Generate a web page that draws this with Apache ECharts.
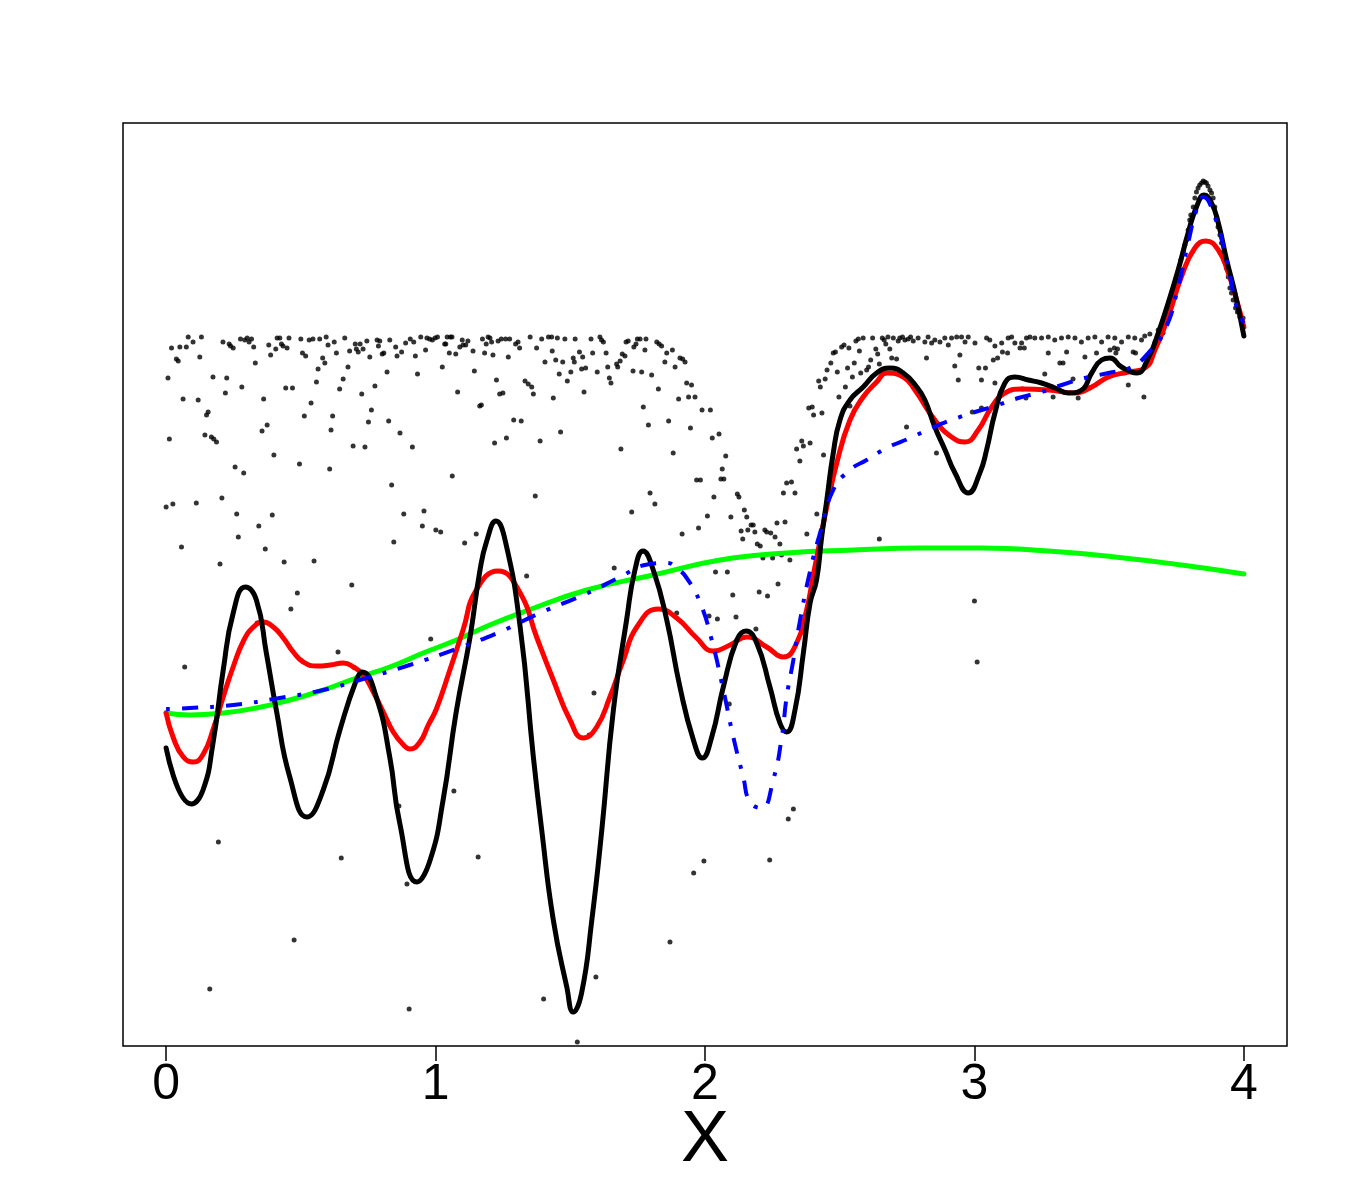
<!DOCTYPE html>
<html>
<head>
<meta charset="utf-8">
<script src="https://cdn.jsdelivr.net/npm/echarts@6/dist/echarts.min.js"></script>
<style>
  html, body { margin: 0; padding: 0; background: #fff; }
  #main { width: 1350px; height: 1200px; }
</style>
</head>
<body>
<div id="main"></div>
<script>
// tick labels on the x axis
var xTicks = [0, 1, 2, 3, 4];

// data points (x, y)
var dotsBandLeft = [
  [0.020,6.98],[0.051,6.99],[0.082,7.09],[0.075,6.99],[0.100,7.04],[0.131,7.09],[0.038,6.87],[0.045,6.85],[0.125,6.89],
  [0.211,7.04],[0.234,7.02],[0.239,7.00],[0.249,6.98],[0.276,7.07],[0.292,7.06],[0.301,7.08],[0.308,7.04],[0.317,7.07],
  [0.325,6.99],[0.331,6.83],[0.381,7.01],[0.388,6.91],[0.407,6.97],[0.412,7.08],[0.422,7.08],[0.428,7.02],[0.434,7.00],
  [0.449,6.98],[0.456,7.08],[0.500,7.07],[0.506,6.93],[0.518,6.90],[0.531,7.06],[0.545,7.07],[0.570,7.07],[0.581,6.88],
  [0.589,6.83],[0.594,7.09],[0.601,7.01],[0.624,7.04],[0.632,6.93],[0.663,7.08],[0.681,6.95],[0.702,7.02],[0.706,6.97],
  [0.713,6.94],[0.720,7.02],[0.731,6.97],[0.745,7.05],[0.756,6.89],[0.783,7.06],[0.793,7.05],[0.788,7.00],[0.802,6.92],
  [0.808,6.93],[0.830,7.06],[0.852,6.99],[0.857,6.90],[0.874,6.94],[0.889,7.03],[0.906,7.07],[0.919,7.04],[0.925,6.90],
  [0.945,7.09],[0.963,6.96],[0.968,7.08],[0.978,7.07],[0.988,7.06],[0.998,7.08],[1.007,7.09],[1.025,6.79],[1.034,7.02],
  [1.038,7.02],[1.043,7.09],[1.055,7.09],[1.061,7.09],[1.051,6.93],[1.075,6.92],[1.090,6.99],[1.099,7.06],[1.102,7.01],
  [1.112,7.01],[1.120,7.05],[1.139,6.95],[1.144,6.75],[1.174,7.07],[1.182,6.93],[1.188,7.02],[1.195,7.09],[1.202,7.08],
  [1.208,7.04],[1.213,6.91],[1.232,7.05],[1.244,7.07],[1.260,7.07],[1.275,7.07],[1.297,7.02],[1.306,7.04],[1.312,6.98],
  [1.270,6.89]
];
var dotsSpreadLeft = [
  [0.007,6.68],[0.174,6.69],[0.225,6.68],[0.063,6.47],[0.119,6.46],[0.220,6.53],[0.281,6.59],[0.444,6.58],[0.469,6.58],
  [0.558,6.64],[0.564,6.77],[0.657,6.67],[0.644,6.57],[0.675,6.79],[0.726,6.52],[0.775,6.60],[0.820,6.74],[0.933,6.72],
  [0.362,6.47],[0.150,6.31],[0.156,6.34],[0.513,6.30],[0.538,6.43],[0.618,6.30],[0.762,6.36],[0.751,6.24],[0.826,6.25],
  [0.868,6.13],[0.914,5.99],[0.694,6.00],[0.738,5.99],[0.356,6.15],[0.375,6.21],[0.612,6.16],[0.144,6.11],[0.168,6.09],
  [0.177,6.07],[0.187,6.04],[0.012,6.07],[0.400,5.91],[0.256,5.79],[0.288,5.73],[0.495,5.82],[0.607,5.77],[1.062,5.70],
  [0.837,5.61],[1.082,6.54],[1.164,6.40],[1.170,6.41],[1.226,6.66],[1.238,6.52],[1.250,6.53],[1.290,6.26],[1.318,6.25],
  [1.219,6.03],[1.263,6.08],[0.000,5.39],[0.025,5.42],[0.112,5.43],[0.207,5.48],[0.262,5.32],[0.394,5.31],[0.344,5.20],
  [0.268,5.09],[0.057,4.99],[0.368,4.97],[0.200,4.82],[0.438,4.84],[0.549,4.85],[0.882,5.32],[0.957,5.35],[0.951,5.20],
  [1.001,5.16],[1.019,5.14],[0.845,5.04],[1.108,5.03],[1.151,5.12],
  [0.069,3.79],[0.487,4.53],[0.463,4.37],[0.689,4.61],[0.638,3.94],[0.982,4.07],[1.068,2.55],[0.864,2.40],[0.338,4.23],
  [0.194,2.04],[0.650,1.88],[0.894,1.62],[1.158,1.89],[0.475,1.06],[0.162,0.57],[0.902,0.37]
];
var dotsMiddle = [
  [1.351,7.09],[1.375,6.98],[1.394,7.07],[1.419,7.09],[1.431,7.09],[1.452,7.08],[1.480,7.07],[1.518,7.07],[1.577,7.07],
  [1.610,7.09],[1.616,7.06],[1.623,7.04],[1.406,6.84],[1.433,6.95],[1.446,6.86],[1.472,6.84],[1.459,6.72],[1.489,6.65],
  [1.502,6.74],[1.511,6.88],[1.515,6.84],[1.534,6.94],[1.542,6.77],[1.546,6.89],[1.557,6.78],[1.583,6.93],[1.600,6.74],
  [1.633,6.93],[1.639,6.79],[1.645,6.68],[1.651,6.63],[1.672,6.82],[1.676,6.79],[1.685,6.85],[1.693,6.92],[1.703,6.90],
  [1.707,7.04],[1.715,7.05],[1.736,6.99],[1.744,7.02],[1.749,7.07],[1.759,7.07],[1.781,7.07],[1.777,6.96],[1.733,6.75],
  [1.765,6.74],[1.802,6.71],[1.821,7.04],[1.830,7.02],[1.839,7.00],[1.858,6.93],[1.851,6.84],[1.879,6.96],[1.889,6.79],
  [1.907,6.88],[1.917,6.87],[1.926,6.84],[1.827,6.57],[1.932,6.63],[1.950,6.61],[1.939,6.49],[1.963,6.49],[1.902,6.47],
  [1.332,6.65],[1.344,6.62],[1.357,6.59],[1.363,6.52],[1.437,6.48],[1.551,6.54],[1.464,6.14],[1.388,6.05],[1.771,6.39],
  [1.790,6.21],[1.865,6.25],[1.946,6.18],[1.989,6.36],[2.020,6.36],[2.027,6.08],[2.052,6.12],[1.688,5.97],[1.882,5.93],
  [2.077,5.90],[2.064,5.77],[2.059,5.67],[2.070,5.67],[1.969,5.66],[1.983,5.66],[1.370,5.50],[1.796,5.53],[1.814,5.42],
  [1.728,5.34],[2.033,5.49],[2.120,5.52],[2.126,5.49],[2.146,5.36],[2.155,5.29],[2.096,5.29],[2.009,5.30],[1.976,5.18],
  [1.915,5.12],[2.134,5.15],[2.140,5.07],[2.159,5.16],[2.171,5.21],[2.179,5.21],[2.185,5.14],[2.222,5.16],[2.229,5.14],
  [2.244,5.13],[2.260,5.09],[2.267,5.23],[2.297,5.24],[2.278,5.02],[2.194,5.02],[2.205,5.00],[2.215,4.88],[2.251,4.88],
  [2.284,4.91],[2.315,4.86],[2.303,5.63],[2.321,5.64],[2.291,5.53],[2.334,5.53],[2.415,5.32],[2.378,5.12],[2.647,5.07],
  [1.663,4.78],[1.338,4.70],[2.039,4.74],[2.083,4.74],
  [2.103,4.51],[2.201,4.54],[2.232,4.50],[2.271,4.62],[1.895,4.33],[2.015,4.30],[2.046,4.27],[2.115,4.29],[2.189,4.17],
  [2.090,3.42],[1.588,3.53],[1.570,3.11],[2.328,2.37],[2.309,2.27],
  [1.401,0.47],[1.595,0.69],[1.526,0.04],[1.870,1.04],[1.958,1.73],[1.996,1.85],[2.240,1.86]
];
var dotsBandRight = [
  [2.340,5.97],[2.352,5.85],[2.359,6.05],[2.365,6.00],[2.390,6.03],[2.385,6.38],[2.398,6.39],[2.403,6.31],[2.434,6.33],
  [2.440,5.91],[2.422,6.65],[2.428,6.59],[2.446,6.67],[2.453,6.76],[2.467,6.83],[2.476,6.93],[2.484,6.94],[2.491,6.74],
  [2.497,6.49],[2.507,6.99],[2.516,7.01],[2.521,6.59],[2.529,6.78],[2.534,6.98],[2.547,6.69],[2.554,6.83],[2.560,7.05],
  [2.569,7.07],[2.573,6.95],[2.578,6.73],[2.587,7.08],[2.600,6.76],[2.607,6.79],[2.615,6.86],[2.622,7.08],[2.634,6.97],
  [2.641,6.92],[2.647,6.82],[2.658,7.08],[2.665,7.06],[2.671,7.02],[2.679,7.09],[2.686,6.97],[2.693,6.88],[2.699,7.08],
  [2.711,6.87],[2.717,7.05],[2.723,7.08],[2.733,7.09],[2.742,7.06],[2.754,7.07],[2.763,7.09],[2.773,7.05],[2.748,6.19],
  [2.538,6.40],
  [2.791,7.08],[2.816,7.04],[2.828,7.09],[2.841,7.03],[2.853,7.06],[2.872,7.04],[2.890,7.08],[2.903,7.01],[2.915,7.08],
  [2.934,7.09],[2.952,7.09],[2.965,7.04],[2.977,7.09],[3.002,7.03],[3.045,7.08],[3.057,7.06],[3.076,7.00],[3.101,7.03],
  [3.125,7.08],[3.138,7.09],[3.150,7.03],[3.175,7.03],[3.193,7.08],[3.206,7.09],[3.224,7.08],[3.249,7.08],[3.274,7.09],
  [3.298,7.06],[3.323,7.08],[3.348,7.09],[3.373,7.08],[3.397,7.04],[3.422,7.08],[3.447,7.09],[3.472,7.04],[3.496,7.09],
  [3.521,7.08],[3.546,7.04],[3.571,7.09],[3.595,7.08],[3.620,7.06],[3.632,7.10],[3.651,7.12],[3.670,7.04],[3.682,7.16],
  [3.694,7.18],[3.700,7.13],
  [2.822,6.88],[2.927,6.80],[2.946,6.91],[2.940,6.66],[3.016,6.78],[3.041,6.78],[3.026,6.66],[3.076,6.63],[3.070,6.86],
  [3.086,6.88],[3.104,6.94],[3.123,6.93],[3.169,6.98],[3.185,6.98],[3.261,6.72],[3.274,6.93],[3.317,6.83],[3.329,6.83],
  [3.342,6.94],[3.366,6.67],[3.410,6.89],[3.453,6.93],[3.503,6.96],[3.519,6.98],[3.525,6.93],[3.531,6.97],[3.589,6.94],
  [3.598,6.93],[3.428,6.58],[3.385,6.48],[3.292,6.49],[3.191,6.48],[3.178,6.57],[3.026,6.38],[2.992,6.34],[2.859,5.93],
  [3.571,6.61],[3.629,6.49],[3.000,4.45],[3.010,3.84]
];
var dotsPeak = [
  [3.707,7.29],[3.713,7.34],[3.719,7.39],[3.725,7.44],[3.731,7.49],[3.744,7.54],[3.750,7.59],[3.756,7.66],[3.762,7.76],
  [3.766,7.86],[3.775,7.94],[3.781,8.01],[3.787,8.06],[3.793,8.16],[3.799,8.26],[3.803,8.31],[3.812,8.39],[3.818,8.48],
  [3.824,8.54],[3.830,8.58],[3.836,8.61],[3.843,8.63],[3.849,8.65],[3.855,8.64],[3.861,8.63],[3.867,8.60],[3.874,8.56],
  [3.880,8.53],[3.886,8.48],[3.892,8.39],[3.898,8.29],[3.904,8.19],[3.911,8.11],[3.917,8.03],[3.923,7.94],[3.929,7.86],
  [3.935,7.78],[3.942,7.69],[3.948,7.58],[3.954,7.53],[3.960,7.46],[3.969,7.38],[3.976,7.34],[3.985,7.29],[3.997,7.28]
];

// fitted curves (x, y)
var greenCurve = [
  [0,3.33],[0.088,3.31],[0.212,3.33],[0.334,3.38],[0.459,3.46],[0.583,3.56],[0.706,3.68],[0.830,3.79],[0.954,3.93],
  [1.077,4.06],[1.201,4.21],[1.325,4.34],[1.561,4.56],[1.808,4.71],[2.056,4.86],[2.303,4.93],[2.550,4.96],[2.798,4.98],
  [3.027,4.98],[3.274,4.95],[3.521,4.89],[3.769,4.81],[4.0,4.72]
];
var redCurve = [
  [0,3.33],[0.027,3.08],[0.064,2.89],[0.101,2.84],[0.138,2.92],[0.176,3.18],[0.213,3.50],[0.250,3.80],[0.287,4.05],
  [0.324,4.19],[0.361,4.24],[0.398,4.19],[0.435,4.08],[0.472,3.94],[0.509,3.84],[0.559,3.80],[0.609,3.81],[0.658,3.83],
  [0.695,3.79],[0.732,3.71],[0.769,3.54],[0.806,3.34],[0.843,3.14],[0.881,3.01],[0.905,2.97],[0.942,3.04],[0.973,3.21],
  [1.003,3.37],[1.053,3.76],[1.102,4.16],[1.151,4.56],[1.232,4.75],[1.314,4.53],[1.375,4.09],
  [1.437,3.66],[1.499,3.26],[1.548,3.08],[1.598,3.19],[1.647,3.49],[1.697,3.86],[1.747,4.19],[1.827,4.37],[1.895,4.28],
  [1.969,4.08],[2.031,3.95],[2.093,4.01],[2.155,4.09],[2.229,3.99],[2.291,3.89],[2.340,4.03],[2.377,4.36],[2.402,4.71],
  [2.452,5.39],[2.489,5.83],[2.538,6.26],[2.587,6.49],[2.637,6.64],[2.674,6.73],[2.736,6.69],[2.779,6.56],[2.853,6.26],
  [2.915,6.09],[2.965,6.04],[3.014,6.16],[3.064,6.39],[3.113,6.53],[3.175,6.57],[3.274,6.56],[3.373,6.53],[3.435,6.59],
  [3.497,6.69],[3.571,6.74],[3.633,6.78],[3.670,6.96],[3.719,7.29],[3.769,7.70],[3.818,7.98],[3.859,8.05],[3.905,7.96],
  [3.942,7.73],[3.973,7.46],[4.0,7.19]
];
var blackCurve = [
  [0,2.98],[0.094,2.42],[0.137,2.56],[0.174,3.03],[0.212,3.76],[0.249,4.33],[0.294,4.59],[0.335,4.46],
  [0.372,3.93],[0.409,3.36],[0.459,2.69],[0.523,2.29],[0.583,2.56],[0.645,3.16],[0.706,3.66],[0.728,3.74],[0.780,3.49],
  [0.830,2.89],[0.867,2.23],[0.931,1.64],[0.980,1.86],[1.028,2.46],[1.076,3.33],[1.128,4.09],[1.165,4.76],[1.191,5.06],
  [1.224,5.25],[1.258,5.06],[1.314,4.19],[1.363,2.89],[1.394,2.16],[1.437,1.26],[1.487,0.59],[1.511,0.34],[1.542,0.53],
  [1.580,1.26],[1.617,2.16],[1.660,3.36],[1.709,4.26],[1.740,4.76],[1.770,4.95],[1.808,4.76],[1.858,4.26],[1.907,3.59],
  [1.957,3.06],[1.990,2.88],[2.025,3.09],[2.068,3.59],[2.118,4.06],[2.152,4.15],[2.192,4.03],[2.241,3.59],[2.278,3.23],
  [2.303,3.14],[2.334,3.36],[2.365,3.93],[2.390,4.43],[2.414,4.66],[2.433,5.09],[2.452,5.46],[2.476,5.93],[2.501,6.26],
  [2.538,6.46],[2.587,6.59],[2.637,6.73],[2.686,6.78],[2.736,6.73],[2.786,6.59],[2.816,6.46],[2.853,6.19],[2.891,5.96],
  [2.928,5.73],[2.977,5.53],[3.020,5.73],[3.045,5.96],[3.076,6.33],[3.113,6.63],[3.150,6.69],[3.200,6.66],[3.249,6.63],
  [3.299,6.58],[3.348,6.53],[3.398,6.56],[3.435,6.73],[3.472,6.86],[3.503,6.88],[3.546,6.79],[3.602,6.73],[3.645,6.88],
  [3.682,7.13],[3.719,7.43],[3.756,7.76],[3.793,8.13],[3.824,8.39],[3.853,8.51],[3.880,8.43],[3.905,8.23],[3.936,7.86],
  [3.967,7.53],[4.0,7.10]
];
var blueCurve = [
  [0,3.37],[0.088,3.38],[0.249,3.41],[0.422,3.48],[0.583,3.56],[0.743,3.68],[0.904,3.81],[1.077,3.97],[1.238,4.14],
  [1.388,4.33],[1.548,4.51],[1.685,4.69],[1.777,4.81],[1.858,4.83],[1.895,4.78],[1.932,4.68],[1.981,4.44],[2.025,4.06],
  [2.068,3.56],[2.105,3.09],[2.142,2.69],[2.167,2.44],[2.210,2.38],[2.253,2.66],[2.285,3.09],[2.303,3.49],[2.328,3.86],
  [2.353,4.26],[2.390,4.75],[2.427,5.13],[2.476,5.56],[2.538,5.76],[2.600,5.86],[2.674,5.98],[2.761,6.08],[2.841,6.18],
  [2.915,6.26],[3.002,6.34],[3.076,6.40],[3.163,6.48],[3.249,6.54],[3.324,6.61],[3.410,6.68],[3.497,6.73],[3.583,6.79],
  [3.645,6.93],[3.707,7.16],[3.756,7.59],[3.793,8.03],[3.824,8.36],[3.849,8.49],[3.892,8.29],[3.936,7.86],[3.973,7.39],
  [4.0,7.23]
];

var chart = echarts.init(document.getElementById('main'), null, {renderer: 'canvas'});

var allDots = dotsBandLeft.concat(dotsSpreadLeft, dotsMiddle, dotsBandRight, dotsPeak);

function curve(data, color, width, dash) {
    return {
        type: 'line',
        data: data,
        smooth: 0.5,
        showSymbol: false,
        silent: true,
        lineStyle: {color: color, width: width, type: dash || 'solid', cap: 'round', join: 'round'}
    };
}

var blueLine = curve(blueCurve, '#0000ff', 4, [4, 12, 16, 12]);
blueLine.lineStyle.cap = 'butt';

chart.setOption({
    animation: false,
    backgroundColor: '#ffffff',
    grid: {
        left: 123, right: 63, top: 123, bottom: 154,
        show: true, borderColor: '#000', borderWidth: 1.5, backgroundColor: 'transparent'
    },
    xAxis: {
        type: 'value',
        min: -0.16,
        max: 4.16,
        name: 'X',
        nameLocation: 'middle',
        nameGap: 59,
        nameMoveOverlap: false,
        nameTextStyle: {fontSize: 72, color: '#000', fontFamily: 'Liberation Sans, Arial, sans-serif'},
        axisLine: {show: false},
        splitLine: {show: false},
        axisTick: {show: true, customValues: xTicks, length: 15, lineStyle: {color: '#000', width: 1.5}},
        axisLabel: {
            customValues: xTicks, fontSize: 50, margin: 14, color: '#000',
            fontFamily: 'Liberation Sans, Arial, sans-serif'
        }
    },
    yAxis: {
        type: 'value', min: 0, max: 9.23, show: false, splitLine: {show: false}
    },
    series: [
        {
            type: 'scatter',
            data: allDots,
            symbolSize: 5,
            silent: true,
            itemStyle: {color: '#000'}
        },
        curve(greenCurve, '#00ff00', 5),
        curve(redCurve, '#ff0000', 5),
        curve(blackCurve, '#000000', 5),
        blueLine
    ]
});
</script>
</body>
</html>
